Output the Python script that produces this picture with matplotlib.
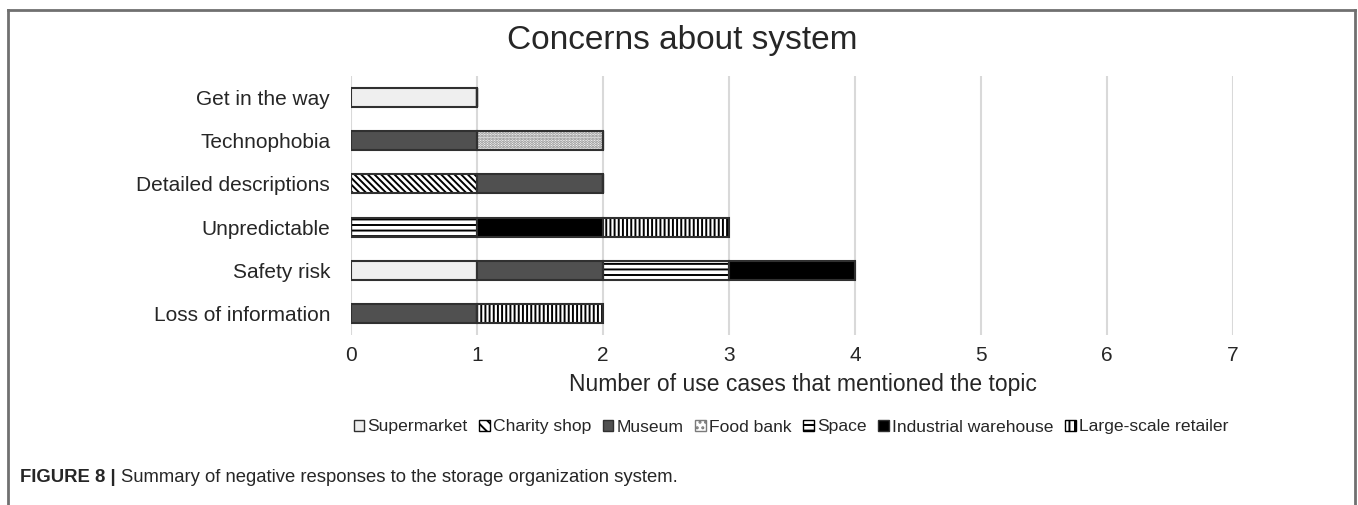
import matplotlib
matplotlib.use("Agg")
import matplotlib.pyplot as plt
import numpy as np
from matplotlib.lines import Line2D
from matplotlib.patches import Patch

plt.rcParams['font.family'] = ['Liberation Sans', 'DejaVu Sans']
plt.rcParams['hatch.linewidth'] = 1.4

categories = ["Loss of information", "Safety risk", "Unpredictable",
              "Detailed descriptions", "Technophobia", "Get in the way"]
series_names = ["Supermarket", "Charity shop", "Museum", "Food bank",
                "Space", "Industrial warehouse", "Large-scale retailer"]
supermarket = [0, 1, 0, 0, 0, 1]
charity_shop = [0, 0, 0, 1, 0, 0]
museum = [1, 1, 0, 1, 1, 0]
food_bank = [0, 0, 0, 0, 1, 0]
space = [0, 1, 1, 0, 0, 0]
industrial = [0, 1, 1, 0, 0, 0]
large_retailer = [1, 0, 1, 0, 0, 0]
series_values = [supermarket, charity_shop, museum, food_bank, space,
                 industrial, large_retailer]
x_ticks = [0, 1, 2, 3, 4, 5, 6, 7]

# style per series: (facecolor, hatch, hatchcolor)
styles = [
    ("#efefef", None, None),
    ("white", "\\\\\\\\\\", "black"),
    ("#505050", None, None),
    ("white", "......", "#7a7a7a"),
    ("white", "---", "black"),
    ("black", None, None),
    ("white", "||||", "black"),
]

fig = plt.figure(figsize=(13.58, 5.05), dpi=100)
ax = fig.add_axes([351/1358, 1-335/505, (1233-351)/1358, (335-76)/505])

y = np.arange(len(categories))
left = np.zeros(len(categories))
handles = []
for name, vals, (fc, hatch, hc) in zip(series_names, series_values, styles):
    vals = np.array(vals, dtype=float)
    if hatch is not None:
        ax.barh(y, vals, left=left, height=0.44, color=fc, hatch=hatch,
                edgecolor=hc, linewidth=0, zorder=2)
        ax.barh(y, vals, left=left, height=0.44, facecolor='none',
                edgecolor='#303030', linewidth=1.5, zorder=3)
    else:
        ax.barh(y, vals, left=left, height=0.44, color=fc,
                edgecolor='#303030', linewidth=1.5, zorder=3)
    handles.append(Patch(facecolor=fc, hatch=(hatch[:3] if hatch else None),
                         edgecolor=(hc if hc else '#303030'), linewidth=1.0,
                         label=name))
    left += vals

ax.set_xlim(0, 7)
ax.set_ylim(-0.5, 5.5)
ax.set_xticks(x_ticks)
ax.set_xticklabels([str(t) for t in x_ticks], fontsize=15, color='#262626')
ax.set_yticks(y)
ax.set_yticklabels(categories, fontsize=15, color='#262626')
ax.tick_params(axis='both', length=0)
ax.tick_params(axis='y', pad=15)
ax.tick_params(axis='x', pad=8)
ax.xaxis.grid(True, color='#d9d9d9', linewidth=1.5, zorder=0)
ax.set_axisbelow(True)
for s in ax.spines.values():
    s.set_visible(False)
ax.set_xlabel("Number of use cases that mentioned the topic", fontsize=16.5,
              color='#262626')
ax.xaxis.set_label_coords(803/1358, 1-385/505, transform=fig.transFigure)
ax.xaxis.label.set_va('center')

fig.text(682/1358, 1-40/505, "Concerns about system", fontsize=24,
         ha='center', va='center', color='#262626')

leg = fig.legend(handles=handles, loc='center', bbox_to_anchor=(791/1358, 1-427/505),
                 ncol=7, frameon=False, fontsize=12.6, handlelength=0.6,
                 handleheight=0.6, handletextpad=0.2, columnspacing=0.65,
                 labelcolor='#262626')

# outer frame
fc_ = '#707070'
fig.add_artist(Line2D([8/1358, 1355/1358], [1-10/505, 1-10/505], color=fc_, lw=2))
fig.add_artist(Line2D([8/1358, 8/1358], [0, 1-10/505], color=fc_, lw=2))
fig.add_artist(Line2D([1355/1358, 1355/1358], [0, 1-10/505], color=fc_, lw=2))

# caption
cap_size = 13.3
t1 = fig.text(20/1358, 1-478/505, "FIGURE 8 |", fontsize=cap_size, fontweight='bold',
              va='center', ha='left', color='#262626')
fig.canvas.draw()
r = fig.canvas.get_renderer()
bb = t1.get_window_extent(r)
fig.text((bb.x1 + 5)/1358, 1-478/505,
         "Summary of negative responses to the storage organization system.",
         fontsize=cap_size, va='center', ha='left', color='#262626')

fig.savefig("out.png", dpi=100)
